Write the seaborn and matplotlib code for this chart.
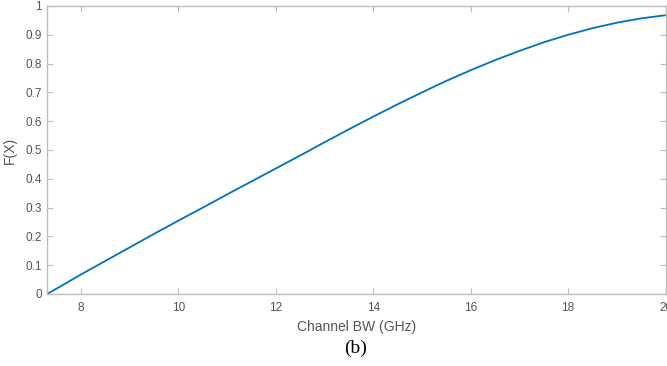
import pandas as pd
import matplotlib
matplotlib.use("Agg")
import matplotlib.pyplot as plt
import seaborn as sns

# === I. ===
channel_bw = [7.3, 7.5, 8.0, 8.5, 9.0, 9.5, 10.0, 10.5, 11.0, 11.5, 12.0, 12.5,
              13.0, 13.5, 14.0, 14.5, 15.0, 15.5, 16.0, 16.5, 17.0, 17.5,
              18.0, 18.5, 19.0, 19.5, 20.0]
cdf_values = [0.0, 0.019, 0.068, 0.115, 0.162, 0.209, 0.255, 0.300, 0.346, 0.391,
              0.436, 0.481, 0.527, 0.572, 0.616, 0.659, 0.700, 0.740, 0.777,
              0.812, 0.844, 0.874, 0.900, 0.923, 0.942, 0.957, 0.968]
x_ticks = [8, 10, 12, 14, 16, 18, 20]
y_ticks = [0, 0.1, 0.2, 0.3, 0.4, 0.5, 0.6, 0.7, 0.8, 0.9, 1]
y_tick_labels = ["0", "0.1", "0.2", "0.3", "0.4", "0.5", "0.6", "0.7", "0.8", "0.9", "1"]

df = pd.DataFrame({"bw": channel_bw, "F": cdf_values})

# === II. Style ===
sns.set_style("white")
plt.rcParams["font.family"] = ["Liberation Sans", "DejaVu Sans"]

fig = plt.figure(figsize=(6.67, 3.66), dpi=100)
ax = fig.add_axes([47 / 667, 72 / 366, 618.5 / 667, 288 / 366])

sns.lineplot(data=df, x="bw", y="F", ax=ax, color="#0072BD", linewidth=1.3)

ax.set_xlim(7.3, 20)
ax.set_ylim(0, 1)
ax.set_xticks(x_ticks)
ax.set_yticks(y_ticks)
ax.set_yticklabels(y_tick_labels)

grey = "#bdbdbd"
for side in ["left", "right", "top", "bottom"]:
    ax.spines[side].set_visible(True)
    ax.spines[side].set_color(grey)
    ax.spines[side].set_linewidth(1.0)
ax.tick_params(direction="in", length=4, width=0.8, color=grey,
               labelsize=8.5, labelcolor="#555555",
               top=True, right=True, bottom=True, left=True)
ax.tick_params(axis="x", pad=6)

# the "20" tick label is clipped by the right edge, as in the reference
ax.set_xlabel("Channel BW (GHz)", fontsize=10, color="#555555", labelpad=4)
ax.set_ylabel("F(X)", fontsize=10, color="#555555", labelpad=6)

fig.text(356 / 667, 1 - 348 / 366, "(b)", ha="center", va="center",
         fontsize=14, family=["Liberation Serif", "DejaVu Serif"], color="black")

fig.savefig("out.png", dpi=100)
